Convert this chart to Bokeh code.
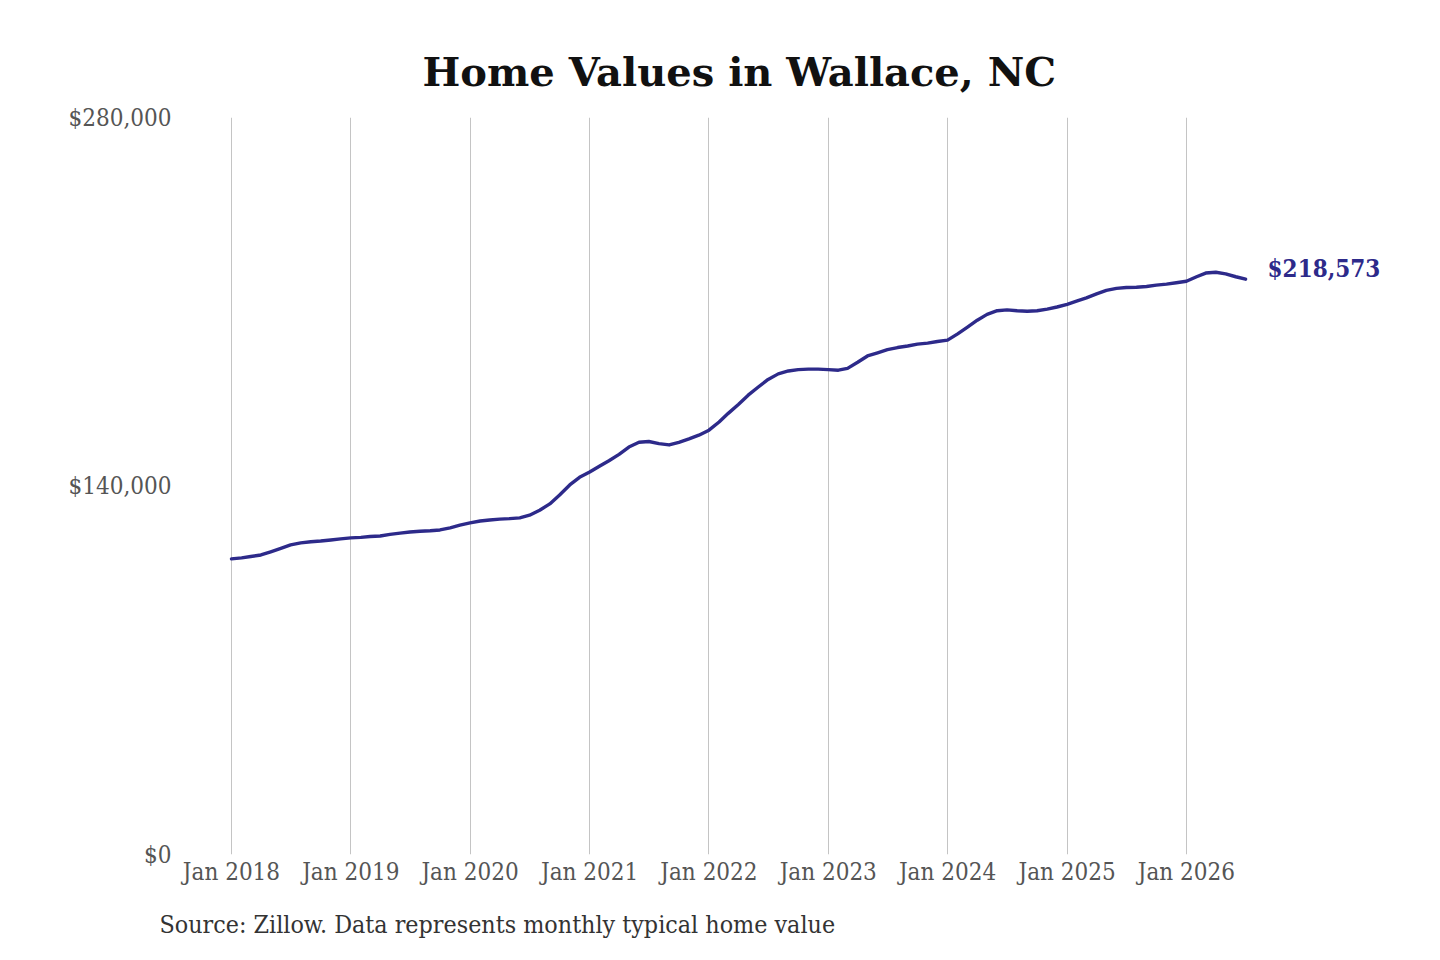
import pandas as pd
from bokeh.plotting import figure
from bokeh.models import Range1d, FixedTicker, NumeralTickFormatter, Label, DatetimeTickFormatter, Title
from bokeh.embed import file_html
from bokeh.resources import INLINE

title_text = "Home Values in Wallace, NC"
source_text = "Source: Zillow. Data represents monthly typical home value"
start_month = "2018-01-01"
values = [
    112300, 112700, 113200, 113800, 115000, 116300, 117600, 118400, 118800, 119100, 119500, 119900,
    120300, 120500, 120800, 121000, 121600, 122100, 122500, 122800, 123000, 123300, 124100, 125100,
    126000, 126700, 127100, 127400, 127600, 127900, 128900, 130800, 133200, 136600, 140400, 143300,
    145300, 147600, 149600, 152000, 154800, 156600, 156900, 156100, 155600, 156600, 157900, 159300,
    161200, 164300, 167600, 171000, 174500, 177600, 180500, 182600, 183700, 184200, 184400, 184400,
    184200, 184000, 184700, 187000, 189400, 190600, 191800, 192600, 193200, 193900, 194300, 194900,
    195400, 197800, 200300, 203000, 205200, 206600, 206900, 206600, 206400, 206600, 207200, 208000,
    209000, 210300, 211500, 213000, 214300, 215100, 215400, 215500, 215800, 216300, 216700, 217200,
    217800, 219500, 220900, 221200, 220600, 219500, 218573,
]
y_ticks = [0, 140000, 280000]
x_tick_years = [2018, 2019, 2020, 2021, 2022, 2023, 2024, 2025, 2026]

dates = pd.date_range(start_month, periods=len(values), freq="MS")
x_ticks = [pd.Timestamp(f"{y}-01-01").value // 10**6 for y in x_tick_years]

LINE = "#2d2a8a"
SERIF = "DejaVu Serif"
SERIF_C = "DejaVu Serif Condensed"

W, H = 1424, 958
p = figure(width=W, height=H, output_backend="svg", toolbar_location=None,
           x_axis_type="datetime",
           min_border_left=180, min_border_right=24, min_border_top=117, min_border_bottom=103)
p.outline_line_color = None
p.background_fill_color = "white"
p.border_fill_color = "white"

t0 = pd.Timestamp("2018-01-01")
p.x_range = Range1d(start=(t0 - pd.Timedelta(days=156)), end=(t0 + pd.Timedelta(days=3577)))
p.y_range = Range1d(start=0, end=280000)

p.line(dates, values, line_color=LINE, line_width=3.4, line_join="round", line_cap="round")

p.xaxis.ticker = FixedTicker(ticks=x_ticks)
p.xaxis.formatter = DatetimeTickFormatter(years="%b %Y", months="%b %Y", days="%b %Y")
p.yaxis.ticker = FixedTicker(ticks=y_ticks)
p.yaxis.formatter = NumeralTickFormatter(format="$0,0")
for ax in (p.xaxis, p.yaxis):
    ax.axis_line_color = None
    ax.major_tick_line_color = None
    ax.minor_tick_line_color = None
    ax.major_label_text_font = SERIF_C
    ax.major_label_text_font_size = "24px"
    ax.major_label_text_color = "#555555"
p.xaxis.major_label_standoff = -3
p.yaxis.major_label_standoff = 3

p.xgrid.ticker = FixedTicker(ticks=x_ticks)
p.xgrid.grid_line_color = "#c4c4c4"
p.xgrid.grid_line_width = 1
p.ygrid.grid_line_color = None

end_label = Label(x=dates[-1], y=values[-1], text="${:,}".format(values[-1]),
                  x_offset=22, y_offset=11, text_baseline="middle",
                  text_font=SERIF_C, text_font_style="bold", text_font_size="24px",
                  text_color=LINE)
p.add_layout(end_label)

title = Title(text=title_text, align="left", offset=242, standoff=46,
              text_font=SERIF, text_font_style="bold", text_font_size="40px",
              text_color="#111111")
p.add_layout(title, "above")

src = Title(text=source_text, align="left", offset=-21, standoff=39,
            text_font=SERIF_C, text_font_style="normal", text_font_size="24.8px",
            text_color="#333333")
p.add_layout(src, "below")

open("out.html", "w").write(file_html(p, INLINE))
